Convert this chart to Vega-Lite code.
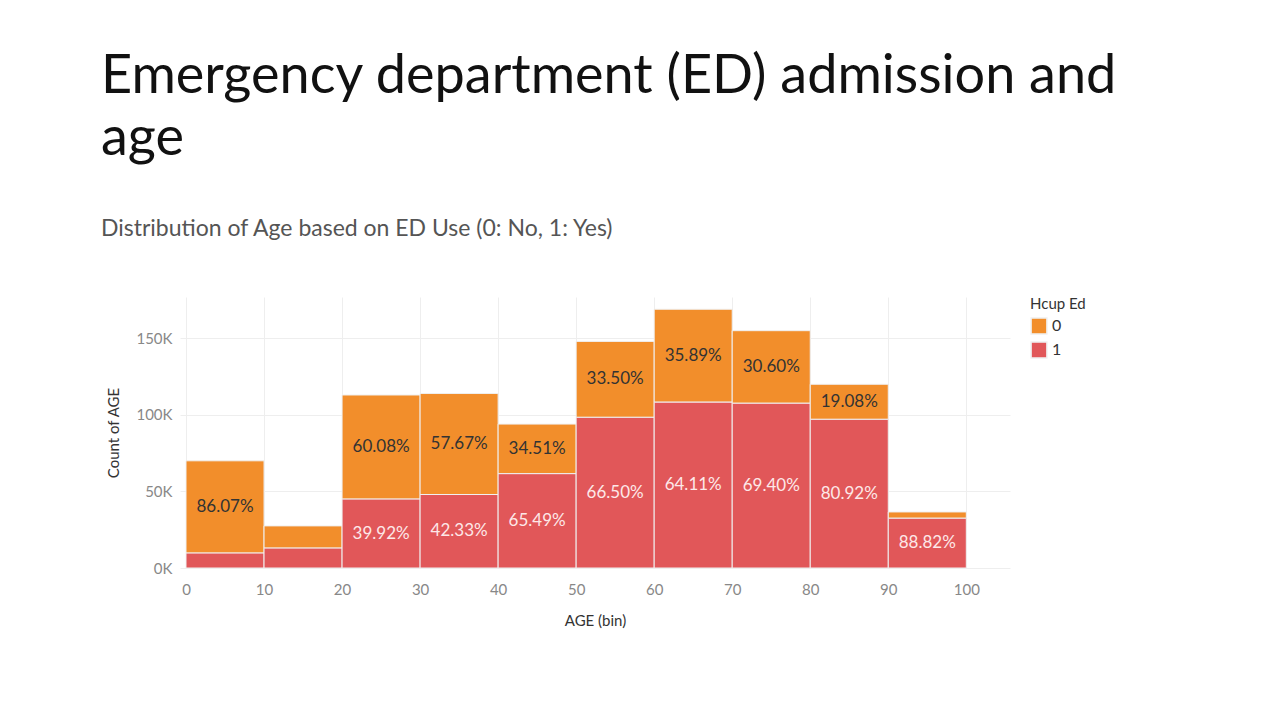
{
"$schema":"https://vega.github.io/schema/vega-lite/v6.json",
"autosize":{"type":"none"},
"width":830,"height":271,
"padding":{"left":180,"top":297,"right":270,"bottom":152},
"background":"white",
"title":{"text":["Emergency department (ED) admission and","age"],"subtitle":"Distribution of Age based on ED Use (0: No, 1: Yes)","anchor":"start","frame":"bounds","dx":-6,"offset":56,"font":"Lato","fontSize":54,"fontWeight":"normal","lineHeight":62,"color":"#111","subtitleFont":"Lato","subtitleFontSize":23,"subtitleColor":"#555","subtitlePadding":52},
"data":{"values":[
{"bin_start":0,"bin_end":10,"ed":"0","count":60250,"label":"86.07%"},
{"bin_start":0,"bin_end":10,"ed":"1","count":9750,"label":""},
{"bin_start":10,"bin_end":20,"ed":"0","count":14500,"label":""},
{"bin_start":10,"bin_end":20,"ed":"1","count":13000,"label":""},
{"bin_start":20,"bin_end":30,"ed":"0","count":68000,"label":"60.08%"},
{"bin_start":20,"bin_end":30,"ed":"1","count":45000,"label":"39.92%"},
{"bin_start":30,"bin_end":40,"ed":"0","count":66000,"label":"57.67%"},
{"bin_start":30,"bin_end":40,"ed":"1","count":48000,"label":"42.33%"},
{"bin_start":40,"bin_end":50,"ed":"0","count":32400,"label":"34.51%"},
{"bin_start":40,"bin_end":50,"ed":"1","count":61600,"label":"65.49%"},
{"bin_start":50,"bin_end":60,"ed":"0","count":49600,"label":"33.50%"},
{"bin_start":50,"bin_end":60,"ed":"1","count":98400,"label":"66.50%"},
{"bin_start":60,"bin_end":70,"ed":"0","count":60700,"label":"35.89%"},
{"bin_start":60,"bin_end":70,"ed":"1","count":108300,"label":"64.11%"},
{"bin_start":70,"bin_end":80,"ed":"0","count":47400,"label":"30.60%"},
{"bin_start":70,"bin_end":80,"ed":"1","count":107600,"label":"69.40%"},
{"bin_start":80,"bin_end":90,"ed":"0","count":22900,"label":"19.08%"},
{"bin_start":80,"bin_end":90,"ed":"1","count":97100,"label":"80.92%"},
{"bin_start":90,"bin_end":100,"ed":"0","count":4100,"label":""},
{"bin_start":90,"bin_end":100,"ed":"1","count":32500,"label":"88.82%"}
]},
"transform":[
{"stack":"count","groupby":["bin_start"],"sort":[{"field":"ed","order":"descending"}],"as":["y0","y1"]},
{"calculate":"(datum.y0+datum.y1)/2","as":"mid"},
{"calculate":"(datum.bin_start+datum.bin_end)/2","as":"xmid"}
],
"config":{"view":{"stroke":null},"font":"Lato",
"axis":{"labelFont":"Lato","titleFont":"Lato","labelColor":"#888","labelFontSize":15,"titleFontSize":15,"titleFontWeight":"normal","titleColor":"#333","gridColor":"#eee","domain":false,"ticks":false}},
"layer":[
{"mark":{"type":"rect","stroke":"#f0f0f0","strokeWidth":1},
"encoding":{
"x":{"field":"bin_start","type":"quantitative","scale":{"domain":[-0.77,105.6],"nice":false},"axis":{"values":[0,10,20,30,40,50,60,70,80,90,100],"title":"AGE (bin)","labelPadding":14,"titlePadding":16}},
"x2":{"field":"bin_end"},
"y":{"field":"y0","type":"quantitative","scale":{"domain":[0,177000],"nice":false},"axis":{"values":[0,50000,100000,150000],"labelExpr":"datum.value/1000+'K'","title":"Count of AGE","labelPadding":8,"titlePadding":14}},
"y2":{"field":"y1"},
"color":{"field":"ed","type":"nominal","scale":{"domain":["0","1"],"range":["#F28E2B","#E15759"]},"legend":{"title":"Hcup Ed","orient":"right","offset":20,"symbolType":"square","symbolSize":250,"labelFontSize":16,"titleFontSize":15,"titleFontWeight":"normal","labelColor":"#333","titleColor":"#333","titleFont":"Lato","labelFont":"Lato"}}
}},
{"mark":{"type":"text","fontSize":17,"font":"Lato"},
"encoding":{
"x":{"field":"xmid","type":"quantitative"},
"y":{"field":"mid","type":"quantitative"},
"text":{"field":"label"},
"color":{"condition":{"test":"datum.ed=='0'","value":"#333"},"value":"#fde8e8"}
}}
]
}
